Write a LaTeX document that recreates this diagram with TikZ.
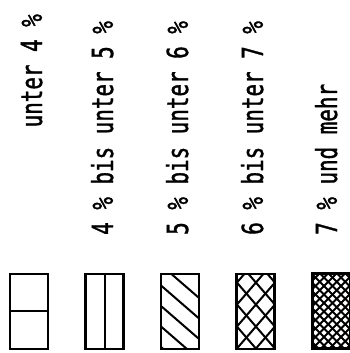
\documentclass[tikz,border=0pt]{standalone}
\usepackage{fontspec}
\newfontfamily\plotfont[FakeStretch=0.72, FakeBold=1.2]{DejaVu Sans Mono}
\usetikzlibrary{positioning}
\newcommand{\bb}{path picture bounding box}

\begin{document}
\begin{tikzpicture}[x=1pt, y=1pt,
  legtext/.style={font=\plotfont\fontsize{29}{33}\selectfont,
                  inner sep=0pt, rotate=90},
  legbox/.style={draw, line width=2.4pt, minimum width=38pt,
                 minimum height=75pt, inner sep=0pt, outer sep=0pt},
  hatch/.style={line width=2pt}]
  \useasboundingbox (0,0) rectangle (350,353);
  % labels, read from bottom to top
  \node[legtext, anchor=base east] (lab1) at (42,339) {unter 4 \%};
  \node[legtext, anchor=base west] (lab2) at (113,118) {4 \% bis unter 5 \%};
  \node[legtext, anchor=base west] (lab3) at (188,118) {5 \% bis unter 6 \%};
  \node[legtext, anchor=base west] (lab4) at (263,118) {6 \% bis unter 7 \%};
  \node[legtext, anchor=base west] (lab5) at (337,118) {7 \% und mehr};
  % hatched boxes
  \node[legbox, anchor=south west, path picture={
        \draw[hatch] (\bb.west) -- (\bb.east);}]
    (box1) at (10,4) {};
  \node[legbox, right=37.5pt of box1, path picture={
        \draw[hatch] (\bb.north) -- (\bb.south);}]
    (box2) {};
  \node[legbox, right=37.5pt of box2, path picture={
        \foreach \k in {0,...,4}
          \draw[hatch] ([yshift={9pt-\k*20.5pt}]\bb.north west) -- ++(60,-52);}]
    (box3) {};
  \node[legbox, right=37.5pt of box3, path picture={
        \foreach \k in {-4,...,2} {
          \draw[hatch] ([xshift={\k*19pt}]\bb.south west) -- ++(70,81);
          \draw[hatch] ([xshift={\k*19pt-7pt}]\bb.north west) -- ++(70,-81);}}]
    (box4) {};
  \node[legbox, line width=3pt, right=37.5pt of box4, path picture={
        \foreach \k in {-10,...,5} {
          \draw[hatch] ([xshift={\k*8.5pt}]\bb.south west) -- ++(90,90);
          \draw[hatch] ([xshift={\k*8.5pt}]\bb.north west) -- ++(90,-90);}}]
    (box5) {};
\end{tikzpicture}
\end{document}
